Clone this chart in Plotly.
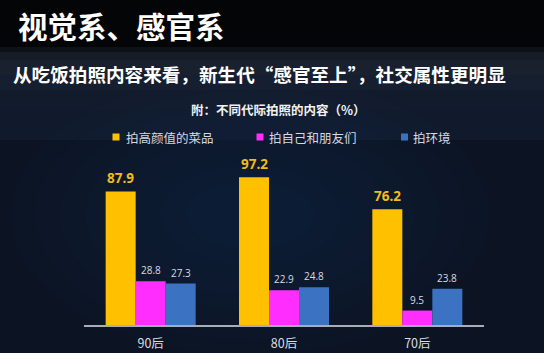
import plotly.graph_objects as go

# ---- data ----
categories = ["90后", "80后", "70后"]
series_names = ["拍高颜值的菜品", "拍自己和朋友们", "拍环境"]
food = [87.9, 97.2, 76.2]
selfie = [28.8, 22.9, 9.5]
scene = [27.3, 24.8, 23.8]
series_values = [food, selfie, scene]

title_text = "视觉系、感官系"
subtitle_text = "从吃饭拍照内容来看，新生代“感官至上”，社交属性更明显"
chart_title = "附：不同代际拍照的内容（%）"

# ---- style ----
colors = ["#FFC000", "#FF2EFF", "#3B73C2"]
label_colors = ["#F2BC1C", "#D8DCE3", "#D8DCE3"]
label_sizes = [13.5, 10, 10]
label_bold = [True, False, False]
CJK = "Noto Sans CJK SC"

W, H = 544, 353
L, R, T, B = 84, 60, 173, 28
PW, PH = W - L - R, H - T - B
BARGAP = 0.325
bar_px = PW / len(categories) * (1 - BARGAP) / len(series_names)


def px(x):
    return (x - L) / PW


def py(y):
    return (H - B - y) / PH


fig = go.Figure()
for name, vals, c in zip(series_names, series_values, colors):
    fig.add_trace(go.Bar(x=categories, y=vals, name=name,
                         marker=dict(color=c, line=dict(width=0)),
                         showlegend=False))

annotations = []
n = len(series_names)
for i, vals in enumerate(series_values):
    off = (i - (n - 1) / 2) * bar_px
    for cat, v in zip(categories, vals):
        txt = f"<b>{v}</b>" if label_bold[i] else f"{v}"
        annotations.append(dict(x=cat, y=v, xref="x", yref="y", text=txt,
                                showarrow=False, xshift=off,
                                yanchor="bottom", yshift=2 if label_bold[i] else 2,
                                font=dict(family="Open Sans, Noto Sans", size=label_sizes[i],
                                          color=label_colors[i])))

# titles
annotations.append(dict(x=px(16), y=py(25), xref="paper", yref="paper",
                        text=f"<b>{title_text}</b>", showarrow=False,
                        xanchor="left", yanchor="middle",
                        font=dict(family=CJK, size=29.5, color="#FFFFFF")))
annotations.append(dict(x=px(11), y=py(74), xref="paper", yref="paper",
                        text=f"<b>{subtitle_text}</b>", showarrow=False,
                        xanchor="left", yanchor="middle",
                        font=dict(family=CJK, size=18.6, color="#FFFFFF")))
annotations.append(dict(x=px(278), y=py(109), xref="paper", yref="paper",
                        text=f"<b>{chart_title}</b>", showarrow=False,
                        xanchor="center", yanchor="middle",
                        font=dict(family=CJK, size=12.5, color="#F2F2F2")))

# custom legend
legend_sq_x = [116, 260, 404.5]
legend_txt_x = [124, 267, 411]
shapes = []

# background bands
bands = [(0, 47, "#040507"), (47, 52, "#0d1219"), (52, 60, "#161d29"),
         (60, 75, "#19212f"), (75, 90, "#161f2f"), (90, 110, "#121b2c"),
         (110, 140, "#101a2c")]
for y0, y1, c in bands:
    shapes.append(dict(type="rect", xref="paper", yref="paper", layer="below",
                       x0=px(0), x1=px(W), y0=py(y1), y1=py(y0),
                       fillcolor=c, line=dict(width=0)))
# soft glow in the middle
cx, cy = 250, 215
for k in range(8):
    rx = 240 - k * 25
    ry = 140 - k * 15
    shapes.append(dict(type="circle", xref="paper", yref="paper", layer="below",
                       x0=px(cx - rx), x1=px(cx + rx), y0=py(cy + ry), y1=py(cy - ry),
                       fillcolor="#2a4266", opacity=0.035, line=dict(width=0)))

for name, c, sx, tx in zip(series_names, colors, legend_sq_x, legend_txt_x):
    shapes.append(dict(type="rect", xref="paper", yref="paper",
                       x0=px(sx - 3.5), x1=px(sx + 3.5), y0=py(140.5), y1=py(133.5),
                       fillcolor=c, line=dict(width=0)))
    annotations.append(dict(x=px(tx), y=py(137), xref="paper", yref="paper",
                            text=name, showarrow=False, xanchor="left", yanchor="middle",
                            font=dict(family=CJK, size=12.5, color="#D5D9E0")))

fig.update_layout(
    width=W, height=H,
    margin=dict(l=L, r=R, t=T, b=B, autoexpand=False),
    paper_bgcolor="#0c1424",
    plot_bgcolor="rgba(0,0,0,0)",
    barmode="group", bargap=BARGAP, bargroupgap=0,
    annotations=annotations, shapes=shapes,
    showlegend=False,
    xaxis=dict(showline=True, linecolor="#A8AEB8", linewidth=1.5,
               ticks="outside", ticklen=6, tickcolor="rgba(0,0,0,0)",
               tickfont=dict(family=CJK, size=12.5, color="#DADDE3"),
               showgrid=False, zeroline=False, automargin=False),
    yaxis=dict(range=[0, 100], visible=False, showgrid=False, zeroline=False,
               automargin=False),
)

fig.write_html("out.html")
